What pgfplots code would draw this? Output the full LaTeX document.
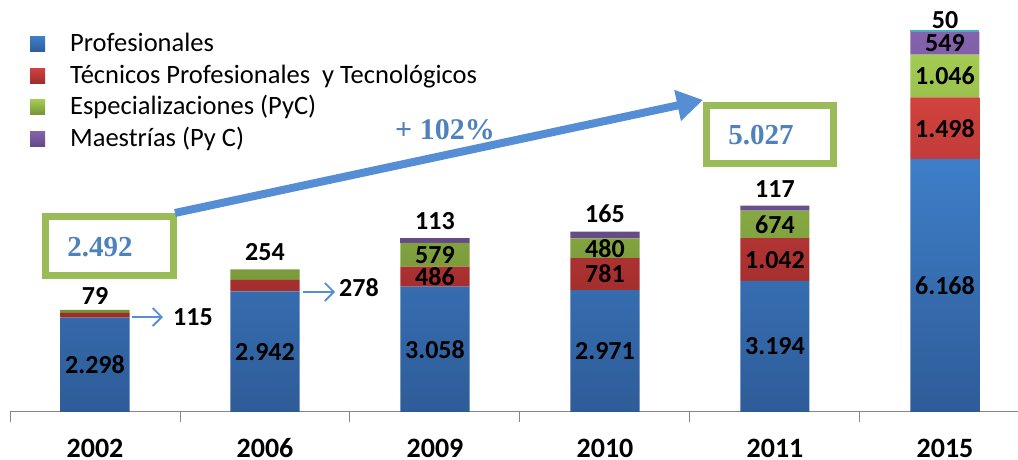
\documentclass[border=0pt]{standalone}
\usepackage{pgfplots}
\pgfplotsset{compat=1.18}
\usepackage{fontspec}
\setmainfont{Carlito}
\newfontfamily\serifb{Liberation Serif}
\usetikzlibrary{arrows.meta}
\definecolor{bluetop}{RGB}{62,126,200}
\definecolor{bluebot}{RGB}{46,92,152}
\definecolor{redtop}{RGB}{208,66,62}
\definecolor{redbot}{RGB}{158,44,44}
\definecolor{greentop}{RGB}{163,203,82}
\definecolor{greenbot}{RGB}{116,146,56}
\definecolor{purtop}{RGB}{133,98,172}
\definecolor{purbot}{RGB}{100,74,136}
\definecolor{cyanc}{RGB}{75,172,198}
\definecolor{boxgreen}{RGB}{155,187,89}
\definecolor{annblue}{RGB}{79,129,189}
\definecolor{arrblue}{RGB}{85,142,213}
\definecolor{axgray}{RGB}{134,134,134}
\newcommand{\lbl}{\bfseries\fontsize{26}{26}\selectfont}
\begin{document}
\begin{tikzpicture}[x=1pt,y=1pt]
\useasboundingbox (0,0) rectangle (1018,460);
\begin{axis}[
  at={(10pt,48pt)}, anchor=south west,
  scale only axis, width=1020pt, height=412pt,
  xmin=-0.5, xmax=5.5, ymin=0, ymax=10042,
  ybar stacked, bar width=69pt,
  axis x line*=bottom, hide y axis,
  axis line style={axgray, line width=1pt},
  xtick={0,1,2,3,4,5},
  xticklabels={2002,2006,2009,2010,2011,2015},
  xticklabel style={font=\bfseries\fontsize{28}{28}\selectfont, anchor=north, inner sep=0pt,
    text height=18pt, text depth=0pt, yshift=-27pt, text=black},
  major tick length=0pt,
  minor xtick={-0.5,0.5,1.5,2.5,3.5,4.5,5.5},
  minor tick length=10pt, tick align=outside,
  minor tick style={axgray, line width=1pt},
  clip=false,
  legend style={at={(rel axis cs:0.0196,0.918)}, anchor=north west, draw=none, fill=none,
    font=\fontsize{26.5}{26.5}\selectfont, row sep=7.5pt, inner sep=0pt,
    nodes={inner sep=0pt, text height=18pt, text depth=6pt}},
  legend cell align=left,
  legend image code/.code={\path[#1,draw=none] (0pt,-6pt) rectangle (15pt,9pt);
     \path (0pt,0pt) -- (40pt,0pt);},
]
\addplot[draw=none, top color=bluetop, bottom color=bluebot] coordinates {(0,2298) (1,2942) (2,3058) (3,2971) (4,3194) (5,6168)};
\addplot[draw=none, top color=redtop, bottom color=redbot] coordinates {(0,115) (1,278) (2,486) (3,781) (4,1042) (5,1498)};
\addplot[draw=none, top color=greentop, bottom color=greenbot] coordinates {(0,79) (1,254) (2,579) (3,480) (4,674) (5,1046)};
\addplot[draw=none, top color=purtop, bottom color=purbot] coordinates {(0,0) (1,0) (2,113) (3,165) (4,117) (5,549)};
\addplot[draw=none, fill=cyanc] coordinates {(0,0) (1,0) (2,0) (3,0) (4,0) (5,50)};
\legend{Profesionales, Técnicos Profesionales~ y Tecnológicos, Especializaciones (PyC), Maestrías (Py C)}
% label anchors
\coordinate (a1) at (axis cs:0,1149);
\coordinate (a2) at (axis cs:1,1471);
\coordinate (a3) at (axis cs:2,1529);
\coordinate (a4) at (axis cs:2,3301);
\coordinate (a5) at (axis cs:2,3833);
\coordinate (a6) at (axis cs:3,1486);
\coordinate (a7) at (axis cs:3,3361);
\coordinate (a8) at (axis cs:3,3992);
\coordinate (a9) at (axis cs:4,1597);
\coordinate (a10) at (axis cs:4,3715);
\coordinate (a11) at (axis cs:4,4573);
\coordinate (a12) at (axis cs:5,3084);
\coordinate (a13) at (axis cs:5,6917);
\coordinate (a14) at (axis cs:5,8189);
\coordinate (a15) at (axis cs:5,8986);
\coordinate (t1) at (axis cs:0,2492);
\coordinate (t2) at (axis cs:1,3474);
\coordinate (t3) at (axis cs:2,4236);
\coordinate (t4) at (axis cs:3,4397);
\coordinate (t5) at (axis cs:4,5027);
\coordinate (t6) at (axis cs:5,9311);
\coordinate (s1) at (axis cs:0.576,2315);
\coordinate (s1a) at (axis cs:0.218,2315);
\coordinate (s1b) at (axis cs:0.40,2315);
\coordinate (s2) at (axis cs:1.553,3022);
\coordinate (s2a) at (axis cs:1.224,2925);
\coordinate (s2b) at (axis cs:1.412,2925);
\end{axis}
% inside labels
\node[font=\lbl] at (a1) {2.298};
\node[font=\lbl] at (a2) {2.942};
\node[font=\lbl] at (a3) {3.058};
\node[font=\lbl] at (a4) {486};
\node[font=\lbl] at (a5) {579};
\node[font=\lbl] at (a6) {2.971};
\node[font=\lbl] at (a7) {781};
\node[font=\lbl] at (a8) {480};
\node[font=\lbl] at (a9) {3.194};
\node[font=\lbl] at (a10) {1.042};
\node[font=\lbl] at (a11) {674};
\node[font=\lbl] at (a12) {6.168};
\node[font=\lbl] at (a13) {1.498};
\node[font=\lbl] at (a14) {1.046};
\node[font=\lbl] at (a15) {549};
% above labels
\node[font=\lbl, anchor=base, yshift=5pt] at (t1) {79};
\node[font=\lbl, anchor=base, yshift=9pt] at (t2) {254};
\node[font=\lbl, anchor=base, yshift=9pt] at (t3) {113};
\node[font=\lbl, anchor=base, yshift=9pt] at (t4) {165};
\node[font=\lbl, anchor=base, yshift=8pt] at (t5) {117};
\node[font=\lbl, anchor=base, yshift=1pt] at (t6) {50};
% side labels with arrows
\node[font=\lbl] at (s1) {115};
\draw[arrblue, line width=1.8pt, -{Straight Barb[length=9pt,width=18pt]}] (s1a) -- (s1b);
\node[font=\lbl] at (s2) {278};
\draw[arrblue, line width=1.8pt, -{Straight Barb[length=9pt,width=18pt]}] (s2a) -- (s2b);
% annotations (picture coordinates, 1pt = 1px, y up)
\draw[boxgreen, line width=7pt] (45.5,184.5) rectangle (173.5,243.5);
\draw[boxgreen, line width=7pt] (706.5,296.5) rectangle (833.5,354.5);
\draw[arrblue, line width=8pt, -{Triangle[length=26pt,width=30pt]}] (175,247) -- (703,360);
\node[font=\serifb\bfseries\fontsize{29}{29}\selectfont, text=annblue] at (100,213) {2.492};
\node[font=\serifb\bfseries\fontsize{29}{29}\selectfont, text=annblue] at (761,325) {5.027};
\node[font=\serifb\bfseries\fontsize{30}{30}\selectfont, text=annblue] at (445,330) {+ 102\%};
\end{tikzpicture}
\end{document}
